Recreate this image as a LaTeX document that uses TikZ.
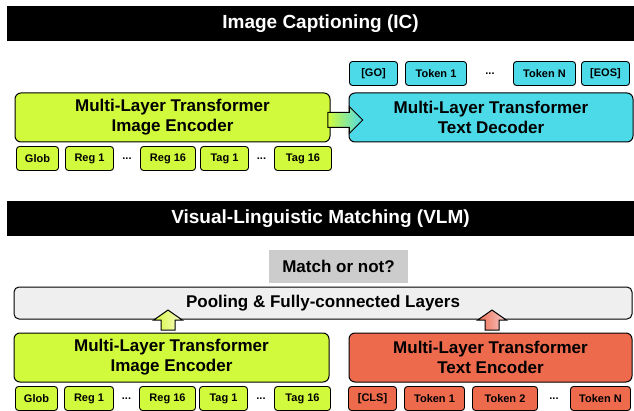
\documentclass[tikz,border=0pt]{standalone}
\usepackage{fontspec}
\setmainfont{Liberation Sans}
\usetikzlibrary{shapes,positioning,calc}
\definecolor{yellowgreen}{RGB}{210,250,60}
\definecolor{skyblue}{RGB}{76,217,232}
\definecolor{tomato2}{RGB}{238,106,77}
\definecolor{paleyellow}{RGB}{250,248,200}
\definecolor{palepink}{RGB}{246,205,205}
\definecolor{lightgray2}{RGB}{239,239,239}
\definecolor{midgray}{RGB}{204,204,204}

\begin{document}
\begin{tikzpicture}[x=1pt,y=1pt,
  header/.style={fill=black,text=white,font=\bfseries\fontsize{19}{22}\selectfont,minimum width=627pt,minimum height=35pt,inner sep=0pt},
  block/.style={draw,line width=1pt,rounded corners=6pt,align=center,minimum height=49pt,inner sep=0pt,font=\bfseries\fontsize{17}{20}\selectfont},
  tok/.style={draw,line width=0.9pt,rounded corners=3pt,minimum height=24pt,inner sep=0pt,outer sep=0pt,font=\bfseries\fontsize{11}{13}\selectfont},
  dots/.style={inner sep=0pt,outer sep=0pt,minimum height=24pt,font=\bfseries\fontsize{11}{13}\selectfont},
  barrow/.style={single arrow,draw,line width=1pt,inner xsep=0pt}]
\useasboundingbox (0,0) rectangle (634,410);

% Image Captioning
\node[header] (ic) at (320.5,386.5) {Image Captioning (IC)};
\node[block,fill=yellowgreen,minimum width=315pt] (enc1) at (172.5,292.5) {Multi-Layer Transformer\\Image Encoder};
\node[block,fill=skyblue,minimum width=284pt] (dec) at (491,292.5) {Multi-Layer Transformer\\Text Decoder};

\node[tok,fill=yellowgreen,minimum width=42pt,below right=4pt and 2pt of enc1.south west] (glob1) {Glob};
\node[tok,fill=yellowgreen,minimum width=48pt,right=7pt of glob1] (reg1a) {Reg 1};
\node[dots,minimum width=27pt,right=0pt of reg1a] (dots1) {...};
\node[tok,fill=yellowgreen,minimum width=55pt,right=0pt of dots1] (reg16a) {Reg 16};
\node[tok,fill=yellowgreen,minimum width=48pt,right=5pt of reg16a] (tag1a) {Tag 1};
\node[dots,minimum width=26pt,right=0pt of tag1a] (dots2) {...};
\node[tok,fill=yellowgreen,minimum width=57pt,right=0pt of dots2] (tag16a) {Tag 16};

\node[tok,fill=skyblue,minimum width=48pt,above right=7pt and 1pt of dec.north west] (go) {[GO]};
\node[tok,fill=skyblue,minimum width=61pt,right=8pt of go] (tok1a) {Token 1};
\node[dots,minimum width=47pt,right=0pt of tok1a] (dots3) {...};
\node[tok,fill=skyblue,minimum width=62pt,right=0pt of dots3] (tokNa) {Token N};
\node[tok,fill=skyblue,minimum width=48pt,right=6pt of tokNa] (eos) {[EOS]};

\node[barrow,inner ysep=7pt,single arrow head extend=6pt,minimum height=35pt,left color=yellowgreen,right color=skyblue] (icarrow) at ($(enc1.east)!.5!(dec.west)+(2,-2.5)$) {};

% Visual-Linguistic Matching
\node[header] (vlm) at (320.5,191.5) {Visual-Linguistic Matching (VLM)};
\node[fill=midgray,minimum width=139pt,minimum height=33pt,inner sep=0pt,font=\bfseries\fontsize{17}{20}\selectfont] (match) at (338.5,143.5) {Match or not?};
\node[block,fill=lightgray2,rounded corners=5pt,minimum width=618pt,minimum height=32pt] (pool) at (323,107) {Pooling \& Fully-connected Layers};
\node[block,fill=yellowgreen,minimum width=315pt] (enc2) at (171.5,52.5) {Multi-Layer Transformer\\Image Encoder};
\node[block,fill=tomato2,minimum width=283pt] (tenc) at (490.5,52.5) {Multi-Layer Transformer\\Text Encoder};

\node[tok,fill=yellowgreen,minimum width=42pt,below right=4pt and 2pt of enc2.south west] (glob2) {Glob};
\node[tok,fill=yellowgreen,minimum width=49pt,right=7pt of glob2] (reg1b) {Reg 1};
\node[dots,minimum width=26pt,right=0pt of reg1b] (dots4) {...};
\node[tok,fill=yellowgreen,minimum width=56pt,right=0pt of dots4] (reg16b) {Reg 16};
\node[tok,fill=yellowgreen,minimum width=48pt,right=4pt of reg16b] (tag1b) {Tag 1};
\node[dots,minimum width=27pt,right=0pt of tag1b] (dots5) {...};
\node[tok,fill=yellowgreen,minimum width=56pt,right=0pt of dots5] (tag16b) {Tag 16};

\node[tok,fill=tomato2,minimum width=48pt,below right=4pt and 0pt of tenc.south west] (cls) {[CLS]};
\node[tok,fill=tomato2,minimum width=60pt,right=8pt of cls] (tok1b) {Token 1};
\node[tok,fill=tomato2,minimum width=65pt,right=8pt of tok1b] (tok2b) {Token 2};
\node[dots,minimum width=33pt,right=0pt of tok2b] (dots6) {...};
\node[tok,fill=tomato2,minimum width=60pt,right=0pt of dots6] (tokNb) {Token N};

\node[barrow,rotate=90,inner ysep=6.5pt,single arrow head extend=7.5pt,single arrow tip angle=110,minimum height=20pt,left color=yellowgreen,right color=paleyellow] (imgarrow) at ($(enc2.north)+(-3.5,10)$) {};
\node[barrow,rotate=90,inner ysep=6.5pt,single arrow head extend=7.5pt,single arrow tip angle=110,minimum height=20pt,left color=tomato2,right color=palepink] (txtarrow) at ($(tenc.north)+(1.5,10)$) {};
\end{tikzpicture}
\end{document}
